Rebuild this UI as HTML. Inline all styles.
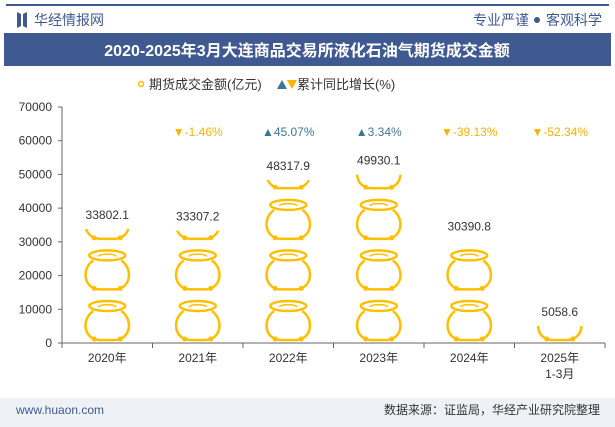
<!DOCTYPE html>
<html><head><meta charset="utf-8"><style>
body{margin:0;width:615px;height:427px;background:#fff;font-family:"Liberation Sans","Noto Sans CJK SC",sans-serif;overflow:hidden;position:relative}
</style></head><body>
<svg width="615" height="427" style="position:absolute;left:0;top:0">
<defs>
<g id="pot">
<ellipse cx="21" cy="7" rx="18" ry="5" fill="none" stroke="#ffbf00" stroke-width="2.5"/>
<path d="M12,8 C 14,5 28,5 30,8" fill="none" stroke="#ffbf00" stroke-width="1.5"/>
<path d="M7,12 C -5,20 -3,40 13,41 L29,41 C45,40 47,20 35,12" fill="none" stroke="#ffbf00" stroke-width="2.5"/>
<circle cx="8" cy="40" r="2.5" fill="#ffbf00"/><circle cx="34" cy="40" r="2.5" fill="#ffbf00"/>
</g>
</defs>
<rect x="6" y="4" width="603" height="2" fill="#3f5a91"/>
<rect x="4" y="33" width="607" height="33" fill="#3f5a91"/>
<rect x="0" y="398" width="615" height="29" fill="#eef1f6"/>
<path d="M17,12 L21,14 L21,26 L17,28 Z M27,12 L23,14 L23,26 L27,28 Z" fill="#3f5a91"/>
<text x="34" y="25" font-size="14" fill="#3f5a91">华经情报网</text>
<text x="529" y="25" font-size="14" fill="#3f5a91" text-anchor="end">专业严谨</text>
<circle cx="537" cy="20" r="3" fill="#3f5a91"/>
<text x="602" y="25" font-size="14" fill="#3f5a91" text-anchor="end">客观科学</text>
<text x="307" y="56" font-size="16" font-weight="bold" fill="#fff" text-anchor="middle">2020-2025年3月大连商品交易所液化石油气期货成交金额</text>
<g>
<circle cx="141" cy="84" r="2.5" fill="none" stroke="#ffbf00" stroke-width="1.5"/>
<text x="149" y="89" font-size="13" fill="#333">期货成交金额(亿元)</text>
<path d="M277,89 L282,80 L287,89 Z" fill="#3e7594"/><path d="M287,80 L297,80 L292,89 Z" fill="#f5b400"/>
<text x="297" y="89" font-size="13" fill="#333">累计同比增长(%)</text>
</g>
<g id="plot"></g>
<text x="16" y="414" font-size="12" fill="#3f5a91">www.huaon.com</text>
<text x="600" y="414" font-size="12" fill="#333" text-anchor="end">数据来源：证监局，华经产业研究院整理</text>
</svg>
<script>
const categories=["2020年","2021年","2022年","2023年","2024年","2025年"];
const amounts=[33802.1,33307.2,48317.9,49930.1,30390.8,5058.6];
const growth=[null,-1.46,45.07,3.34,-39.13,-52.34];
const yTicks=[0,10000,20000,30000,40000,50000,60000,70000];
const NS="http://www.w3.org/2000/svg";
const g=document.getElementById('plot');
const x0=62,x1=605,yb=343,yt=107,ymax=70000;
const cw=(x1-x0)/categories.length;
const Y=v=>yb-(v/ymax)*(yb-yt);
const X=i=>x0+cw*(i+0.5);
function el(t,a,p){const e=document.createElementNS(NS,t);for(const k in a)e.setAttribute(k,a[k]);(p||g).appendChild(e);return e;}
let ax=el('line',{x1:x0,y1:yt,x2:x0,y2:yb,stroke:'#666'});


let bx=el('line',{x1:x0,y1:yb,x2:x1,y2:yb,stroke:'#666'});


yTicks.forEach(v=>{
 el('line',{x1:x0-4,y1:Y(v),x2:x0,y2:Y(v),stroke:'#666'});
 const t=el('text',{x:x0-10,y:Y(v)+4,'font-size':12,fill:'#333','text-anchor':'end'});t.textContent=v;
 
 
});
for(let i=0;i<=categories.length;i++)el('line',{x1:x0+cw*i,y1:yb,x2:x0+cw*i,y2:yb+5,stroke:'#666'});
const unit=15000,tileH=unit/ymax*(yb-yt);
const defs=document.querySelector('defs');
categories.forEach((c,i)=>{
 const cx=X(i);
 const t=el('text',{x:cx,y:362,'font-size':12,fill:'#333','text-anchor':'middle'});t.textContent=c;
 
 
 if(i===5){const t2=el('text',{x:cx,y:378,'font-size':12,fill:'#333','text-anchor':'middle'});t2.textContent='1-3月';}
 const v=amounts[i];
 const cid='clip'+i;
 const cp=document.createElementNS(NS,'clipPath');cp.setAttribute('id',cid);
 const r=document.createElementNS(NS,'rect');r.setAttribute('x',cx-30);r.setAttribute('y',Y(v));r.setAttribute('width',60);r.setAttribute('height',yb-Y(v));
 cp.appendChild(r);defs.appendChild(cp);
 const grp=el('g',{'clip-path':'url(#'+cid+')'});
 
 
 const n=Math.ceil(v/unit);
 for(let k=0;k<n;k++){
  el('use',{href:'#pot',transform:'translate('+(cx-21)+','+(yb-tileH*k-44)+')'},grp);
 }
 const lb=el('text',{x:cx,y:Y(v)-10,'font-size':12,fill:'#333','text-anchor':'middle'});lb.textContent=v.toFixed(1);
 
 
 if(growth[i]!==null){
  const up=growth[i]>=0;
  const gt=el('text',{x:cx,y:136,'font-size':12,fill:up?'#3e7594':'#f5b400','text-anchor':'middle'});
  gt.textContent=(up?'▲':'▼')+growth[i].toFixed(2)+'%';
  
  
 }
});
</script>
</body></html>
